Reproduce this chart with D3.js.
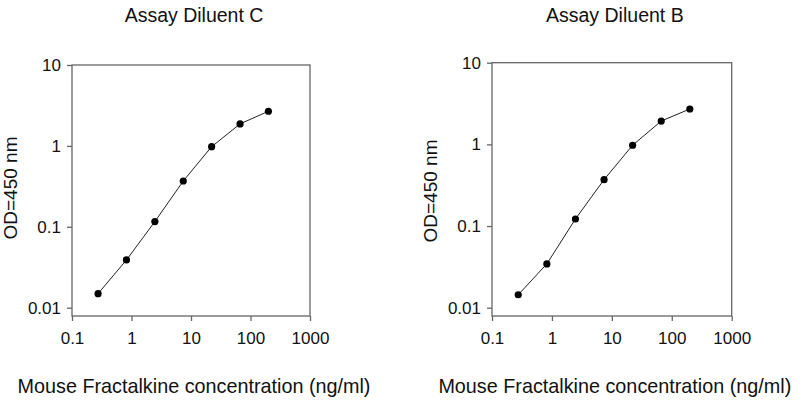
<!DOCTYPE html>
<html>
<head>
<meta charset="utf-8">
<script src="https://cdn.jsdelivr.net/npm/d3@7"></script>
<style>
  body { margin: 0; background: #fff; }
  text { font-family: Arial, "Liberation Sans", Helvetica, sans-serif; fill: #111; }
</style>
</head>
<body>
<script>
// standard curve data, 3-fold dilution from 200 ng/ml
const concentration = [0.274, 0.823, 2.47, 7.41, 22.2, 66.7, 200];
const odDiluentC = [0.0149, 0.0389, 0.116, 0.368, 0.977, 1.87, 2.68];
const odDiluentB = [0.0144, 0.0344, 0.122, 0.370, 0.975, 1.93, 2.71];
const xTickValues = [0.1, 1, 10, 100, 1000];
const yTickValues = [0.01, 0.1, 1, 10];
const panelTitles = ["Assay Diluent C", "Assay Diluent B"];

const width = 800;
const height = 408;

const svg = d3.select('body')
  .append('svg')
  .attr('width', width)
  .attr('height', height);

function drawPanel(title, values, box) {
  const x = d3.scaleLog().domain([0.1, 1000]).range([box.left, box.right]);
  const y = d3.scaleLog().domain([0.01, 10]).range([box.y001, box.top]);
  const g = svg.append('g');

  // frame
  g.append('rect')
    .attr('x', box.left)
    .attr('y', box.top)
    .attr('width', box.right - box.left)
    .attr('height', box.bottom - box.top)
    .attr('fill', 'none')
    .attr('stroke', '#666')
    .attr('stroke-width', 1.3);

  const xAxis = d3.axisBottom(x)
    .tickValues(xTickValues)
    .tickFormat(d3.format('~g'))
    .tickSize(5)
    .tickPadding(11);
  g.append('g')
    .attr('transform', `translate(0,${box.bottom})`)
    .call(xAxis)
    .call(a => a.select('.domain').remove())
    .call(a => a.selectAll('line').attr('stroke', '#666').attr('stroke-width', 1.3))
    .call(a => a.selectAll('text').attr('font-size', 17).attr('fill', '#111'));

  const yAxis = d3.axisLeft(y)
    .tickValues(yTickValues)
    .tickFormat(d3.format('~g'))
    .tickSize(5)
    .tickPadding(6);
  g.append('g')
    .attr('transform', `translate(${box.left},0)`)
    .call(yAxis)
    .call(a => a.select('.domain').remove())
    .call(a => a.selectAll('line').attr('stroke', '#666').attr('stroke-width', 1.3))
    .call(a => a.selectAll('text').attr('font-size', 17).attr('fill', '#111'));

  const pts = concentration.map((c, i) => [c, values[i]]);

  g.append('path')
    .datum(pts)
    .attr('fill', 'none')
    .attr('stroke', '#222')
    .attr('stroke-width', 1)
    .attr('d', d3.line().x(d => x(d[0])).y(d => y(d[1])));

  g.selectAll('circle')
    .data(pts)
    .enter()
    .append('circle')
    .attr('cx', d => x(d[0]))
    .attr('cy', d => y(d[1]))
    .attr('r', 3.6)
    .attr('fill', '#000');

  const cx = (box.left + box.right) / 2 + 3;

  g.append('text')
    .attr('x', cx)
    .attr('y', 22)
    .attr('text-anchor', 'middle')
    .attr('font-size', 19.5)
    .text(title);

  g.append('text')
    .attr('x', cx)
    .attr('y', 393)
    .attr('text-anchor', 'middle')
    .attr('font-size', 19.8)
    .text('Mouse Fractalkine concentration (ng/ml)');

  g.append('text')
    .attr('transform', `translate(${box.left - 55},${box.titleY}) rotate(-90)`)
    .attr('text-anchor', 'middle')
    .attr('font-size', 19)
    .text('OD=450 nm');
}

drawPanel(panelTitles[0], odDiluentC, { left: 72, right: 310, top: 65, y001: 307.7, bottom: 316, titleY: 188 });
drawPanel(panelTitles[1], odDiluentB, { left: 492, right: 731.7, top: 62.7, y001: 307.7, bottom: 316, titleY: 191 });
</script>
</body>
</html>
